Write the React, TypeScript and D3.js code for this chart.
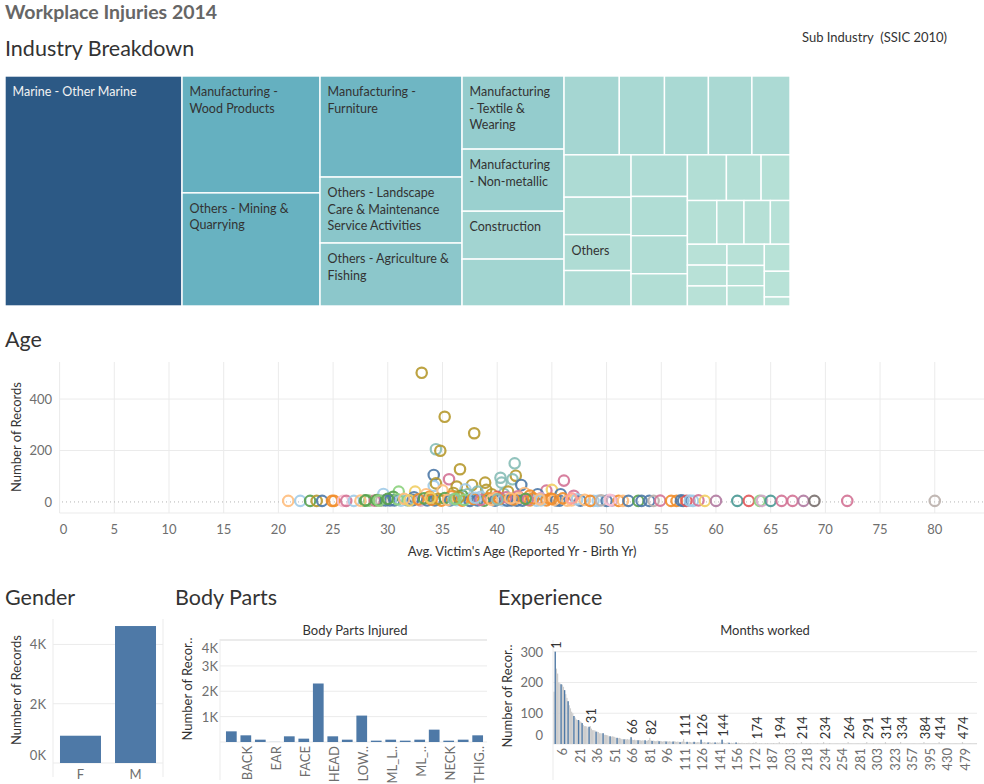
import React from "react";
import * as d3 from "d3";

const FONT = "Lato, 'Open Sans', sans-serif";
const GRID = "#ebebeb";
const TICK = "#6e6e6e";
const DARK = "#333333";
const FS = 13;

// ---------------- Treemap (Sub Industry) ----------------
const subIndustryLabels = [
  "Marine - Other Marine",
  "Manufacturing -\nWood Products",
  "Others - Mining &\nQuarrying",
  "Manufacturing -\nFurniture",
  "Others - Landscape\nCare & Maintenance\nService Activities",
  "Others - Agriculture &\nFishing",
  "Manufacturing\n- Textile &\nWearing",
  "Manufacturing\n- Non-metallic",
  "Construction",
  "", "", "", "", "", "", "", "", "Others", "", "", "", "", "",
  "", "", "", "", "", "", "", "", "", "", "", "", "", "", "", "", "",
];
const subIndustryValues = [
  1234, 489, 473, 435, 284, 271, 226, 192, 148,
  145, 132, 108, 105, 104, 91, 86, 76, 73, 72, 71, 67, 65, 55,
  54, 48, 40, 39, 36, 35, 25, 26, 25, 24, 24, 23, 23, 21, 20, 7,
];

// ---------------- Age scatter ----------------
const tableau20 = [
  "#4e79a7", "#a0cbe8", "#f28e2b", "#ffbe7d", "#59a14f", "#8cd17d", "#b6992d", "#f1ce63",
  "#499894", "#86bcb6", "#e15759", "#ff9d9a", "#79706e", "#bab0ac", "#d37295", "#fabfd2",
  "#b07aa1", "#d4a6c8", "#9d7660", "#d7b5a6",
];
const ageX = [
  33.1, 35.2, 37.9, 34.4, 34.8, 36.6, 34.2, 35.6, 38.9, 37.7, 40.3, 40.4, 41.6, 41.7, 41.4, 42.2, 46.1, 36.3, 34.2, 34.4,
  37.1, 31.0, 32.5, 44.5, 45.0, 43.7, 45.8, 40.6, 32.4, 39.0, 29.6, 47.0, 36.0, 38.2, 35.0, 33.5, 39.5, 42.5, 41.0, 43.0,
  36.8, 38.5, 30.5, 44.0, 40.0, 33.8, 37.3, 35.8, 39.8, 41.9,
  20.9, 22.0, 22.9, 23.5, 24.0, 24.9, 25.1, 25.9, 26.2, 26.9, 27.9, 28.3, 28.8, 29.4, 29.8, 30.2, 30.6, 31.2, 31.8, 32.3,
  33.0, 33.6, 34.3, 34.9, 35.7, 36.3, 36.8, 37.4, 37.5, 38.2, 38.8, 39.8, 40.5, 40.9, 41.3, 41.8, 42.3, 43.0, 43.6, 44.5,
  45.4, 45.7, 46.4, 47.6, 48.8, 49.2, 50.0, 50.5, 51.1, 51.5, 52.0, 52.9, 53.2, 53.9, 54.3, 54.9, 55.9, 56.4, 56.8, 57.0,
  57.3, 57.6, 57.9, 58.4, 58.98, 60.0, 61.95, 63.0, 64.0, 64.2, 65.0, 66.0, 67.0, 68.0, 69.0, 72.0, 80.0,
  30.9, 31.5, 32.0, 32.8, 33.3, 34.0, 34.6, 35.2, 35.5, 36.0, 36.5, 37.0, 37.8, 38.5, 39.2, 39.5, 40.2, 40.8, 41.5, 42.0,
  42.8, 43.3, 44.0, 44.8, 45.2, 46.0, 46.8, 47.3, 48.0, 48.5, 49.5, 50.3, 27.5, 28.0, 29.0, 29.2, 30.0, 33.9, 36.2, 38.0,
  40.0, 41.2, 43.9, 45.0, 46.8, 42.6,
];
const ageY = [
  502, 331, 267, 205, 199, 127, 105, 88, 75, 66, 94, 75, 150, 102, 88, 66, 83, 60, 62, 72,
  49, 40, 40, 44, 47, 30, 30, 31, 18, 47, 31, 24, 35, 40, 45, 30, 30, 35, 40, 25,
  25, 20, 20, 15, 20, 20, 30, 22, 15, 22,
  4, 4, 4, 4, 4, 4, 4, 4, 4, 4, 5, 5, 5, 5, 6, 6, 6, 5, 6, 7,
  5, 6, 6, 5, 6, 7, 5, 6, 4, 6, 5, 5, 6, 5, 6, 5, 5, 6, 5, 6,
  6, 5, 5, 5, 4, 4, 4, 5, 4, 4, 4, 4, 4, 4, 4, 5, 4, 4, 6, 4,
  4, 5, 4, 6, 4, 4, 4, 4, 4, 4, 4, 4, 4, 4, 4, 4, 4,
  10, 12, 6, 10, 14, 9, 12, 15, 8, 10, 18, 8, 12, 8, 14, 8, 12, 18, 10, 16,
  8, 14, 6, 12, 8, 14, 6, 10, 8, 4, 6, 8, 5, 6, 7, 5, 12, 16, 12, 16,
  10, 14, 10, 12, 14, 12,
];
const ageColor = [
  6, 6, 6, 9, 6, 6, 0, 14, 6, 6, 9, 9, 9, 6, 9, 0, 14, 6, 1, 6,
  1, 5, 7, 14, 7, 0, 0, 9, 0, 6, 1, 14, 6, 9, 3, 3, 6, 3, 6, 2,
  4, 1, 4, 17, 10, 2, 9, 2, 3, 14,
  3, 1, 4, 6, 0, 2, 2, 15, 14, 1, 4, 5, 14, 13, 0, 0, 0, 1, 9, 0,
  17, 0, 0, 2, 0, 1, 2, 1, 0, 0, 4, 0, 1, 0, 0, 0, 0, 2, 1, 2,
  0, 0, 3, 0, 1, 1, 0, 17, 2, 3, 0, 4, 0, 0, 13, 14, 2, 2, 0, 0,
  10, 1, 1, 14, 7, 16, 8, 10, 5, 17, 8, 14, 14, 16, 12, 14, 13,
  5, 3, 7, 2, 4, 2, 6, 4, 3, 9, 6, 5, 2, 14, 2, 3, 2, 14, 2, 3,
  14, 2, 1, 2, 3, 2, 3, 1, 3, 2, 13, 15, 3, 4, 4, 5, 4, 7, 5, 1,
  9, 3, 3, 2, 11, 4,
];
const ageXTicks = [0, 5, 10, 15, 20, 25, 30, 35, 40, 45, 50, 55, 60, 65, 70, 75, 80];
const ageYTicks = [0, 200, 400];

// ---------------- Gender ----------------
const genders = ["F", "M"];
const genderCounts = [920, 4620];
const genderTicks = [0, 2000, 4000];

// ---------------- Body parts ----------------
const bodyPartLabels = ["", "BACK", "", "EAR", "", "FACE", "", "HEAD", "", "LOW..", "", "ML_L..", "", "ML_..", "", "NECK", "", "THIG.."];
const bodyPartCounts = [420, 263, 92, 4, 224, 132, 2306, 224, 92, 1041, 53, 92, 53, 92, 487, 53, 92, 263];
const bodyTicks = [1000, 2000, 3000, 4000];

// ---------------- Experience (months worked) ----------------
const expMonths = [
  ...d3.range(0, 157),
  157, 158, 159, 160, 161, 162, 163, 164, 166, 167, 168, 169, 170, 171, 172,
  173, 174, 175, 176, 177, 178, 179, 180, 181, 182, 183, 184, 185, 186, 187,
  188, 189, 190, 191, 192, 193, 194, 196, 197, 198, 199, 200, 201, 202, 203,
  204, 205, 206, 207, 208, 209, 210, 211, 212, 213, 214, 215, 216, 217, 218,
  219, 220, 221, 222, 223, 224, 225, 226, 228, 229, 230, 231, 232, 233, 234,
  235, 236, 238, 239, 240, 242, 243, 244, 246, 247, 248, 250, 251, 253, 254,
  255, 257, 258, 260, 262, 264, 265, 267, 269, 271, 273, 275, 277, 279, 281,
  282, 284, 285, 287, 288, 290, 291, 293, 294, 296, 297, 299, 300, 302, 303,
  304, 306, 307, 309, 310, 312, 313, 314, 316, 317, 318, 320, 321, 322, 323,
  324, 326, 328, 330, 333, 334, 336, 339, 341, 343, 346, 348, 351, 354, 357,
  358, 360, 363, 365, 368, 371, 373, 376, 378, 381, 384, 386, 389, 392, 395,
  396, 399, 401, 404, 406, 408, 410, 412, 414, 416, 419, 421, 424, 427, 430,
  431, 434, 437, 440, 444, 447, 450, 453, 456, 460, 463, 467, 471, 474, 479,
  480, 483, 486, 490, 494, 498, 503, 508, 514, 521, 530,
];
const expCounts = [
  170, 300, 245, 229, 200, 197, 194, 193, 186, 175,
  162, 150, 139, 126, 116, 105, 100, 91, 86, 80,
  78, 78, 74, 72, 68, 62, 58, 58, 57, 51,
  56, 58, 50, 45, 45, 44, 40, 40, 39, 35,
  35, 34, 35, 30, 30, 29, 28, 25, 25, 24,
  25, 24, 23, 20, 20, 19, 20, 18, 16, 16,
  15, 16, 15, 16, 14, 15, 22, 14, 13, 14,
  12, 13, 12, 13, 12, 11, 12, 11, 12, 10,
  11, 13, 20, 12, 10, 11, 10, 9, 10, 11,
  9, 10, 9, 8, 9, 10, 8, 9, 8, 9,
  8, 7, 8, 9, 8, 7, 8, 7, 6, 7,
  8, 16, 7, 6, 7, 6, 7, 6, 5, 6,
  7, 6, 5, 6, 6, 5, 14, 6, 5, 6,
  5, 4, 5, 6, 5, 4, 5, 4, 5, 4,
  5, 4, 5, 4, 14, 5, 4, 3, 4, 5,
  4, 3, 4, 3, 4, 3, 5,
  3, 4, 3, 3, 4, 3, 3, 2, 3, 3, 4, 3, 2, 3, 4,
  3, 6, 3, 2, 3, 2, 3, 2, 2, 3, 2, 3, 2, 2, 3,
  2, 3, 2, 2, 3, 2, 6, 2, 2, 3, 2, 2, 3, 2, 2,
  3, 2, 2, 3, 2, 2, 3, 2, 2, 2, 6, 2, 2, 2, 3,
  2, 2, 2, 3, 2, 2, 2, 2, 2, 3, 2, 2, 2, 2, 6,
  2, 2, 2, 2, 3, 2, 2, 2, 2, 2, 2, 2, 2, 2, 2,
  2, 2, 2, 2, 2, 6, 2, 2, 2, 2, 2, 2, 2, 2, 2,
  2, 2, 2, 2, 2, 2, 6, 2, 2, 2, 2, 2, 3, 2, 2,
  2, 2, 2, 2, 2, 2, 2, 6, 2, 2, 2, 2, 2, 2, 2,
  2, 2, 2, 2, 2, 6, 2, 2, 2, 2, 2, 2, 2, 2, 2,
  2, 2, 2, 2, 2, 2, 2, 2, 2, 2, 6, 2, 2, 2, 2,
  2, 2, 2, 2, 2, 2, 2, 2, 6, 2, 2, 2, 2, 2, 2,
  2, 2, 2, 2, 2, 2, 2, 2, 2, 2, 2, 2, 2, 6, 2,
  2, 2, 2, 2, 2, 2, 2, 2, 2, 2, 2,
];
const expBlueMonths = [1, 6, 9, 12, 17, 21, 24, 30, 36, 42, 48, 54, 60, 66, 72, 78, 84, 90, 96, 102, 108, 114, 120, 126, 132, 138, 144, 150, 156];
const expLabelMonths = [1, 31, 66, 82, 111, 126, 144, 174, 194, 214, 234, 264, 291, 314, 334, 384, 414, 474];
const expTickMonths = [6, 21, 36, 51, 66, 81, 96, 111, 126, 141, 156, 172, 187, 203, 218, 234, 254, 281, 303, 323, 357, 395, 430, 479];
const expYTicks = [0, 100, 200, 300];

const fmtK = (d: number) => `${d / 1000}K`;

function Treemap() {
  const data = { children: subIndustryValues.map((v, i) => ({ value: v, label: subIndustryLabels[i] })) };
  const root = d3
    .hierarchy<any>(data)
    .sum((d: any) => d.value || 0)
    .sort((a, b) => (b.value || 0) - (a.value || 0));
  d3.treemap<any>().size([785, 230]).tile(d3.treemapSquarify)(root);
  const color = d3
    .scaleLinear<string>()
    .domain([0, 520, 1234])
    .range(["#bce4d8", "#60adbf", "#2c5985"]);
  const leaves = root.leaves() as any[];
  return (
    <g transform="translate(5,76)">
      {leaves.map((n, i) => (
        <rect key={i} x={n.x0} y={n.y0} width={n.x1 - n.x0} height={n.y1 - n.y0} fill={color(n.value)} stroke="#fff" strokeWidth={1.4} />
      ))}
      {leaves.map((n, i) =>
        n.data.label ? (
          <text key={"t" + i} x={n.x0 + 7.5} y={n.y0 + 20} fontSize={12.5} fill={n.value > 800 ? "#f2f2f2" : DARK} fontFamily={FONT}>
            {n.data.label.split("\n").map((line: string, j: number) => (
              <tspan key={j} x={n.x0 + 7.5} dy={j === 0 ? 0 : 16.5}>
                {line}
              </tspan>
            ))}
          </text>
        ) : null
      )}
    </g>
  );
}

function AgeScatter() {
  const x = d3.scaleLinear().domain([0, 84.5]).range([59.6, 984]);
  const y = d3.scaleLinear().domain([-43, 544]).range([513, 362]);
  return (
    <g fontFamily={FONT}>
      {ageXTicks.map((t) => (
        <line key={"vx" + t} x1={x(t)} x2={x(t)} y1={362} y2={513} stroke={GRID} strokeWidth={1} />
      ))}
      {ageYTicks.filter((t) => t > 0).map((t) => (
        <line key={"hy" + t} x1={59.6} x2={984} y1={y(t)} y2={y(t)} stroke={GRID} strokeWidth={1} />
      ))}
      <line x1={59.6} x2={984} y1={513} y2={513} stroke={GRID} strokeWidth={1} />
      <line x1={62} x2={984} y1={y(0)} y2={y(0)} stroke="#b4b4b4" strokeWidth={1} strokeDasharray="1,3" />
      {ageX.map((v, i) => (
        <circle key={i} cx={x(v)} cy={y(ageY[i])} r={5.2} fill="none" stroke={tableau20[ageColor[i]]} strokeWidth={2.2} strokeOpacity={0.9} />
      ))}
      {ageXTicks.map((t) => (
        <text key={"tx" + t} x={x(t) + (t === 0 ? 4 : 0)} y={529} textAnchor="middle" dominantBaseline="central" fontSize={FS} fill={TICK}>
          {t}
        </text>
      ))}
      {ageYTicks.map((t) => (
        <text key={"ty" + t} x={52} y={y(t)} textAnchor="end" dominantBaseline="central" fontSize={FS} fill={TICK}>
          {t}
        </text>
      ))}
      <text x={522} y={551} textAnchor="middle" dominantBaseline="central" fontSize={FS} fill={DARK}>
        Avg. Victim's Age (Reported Yr - Birth Yr)
      </text>
      <text transform="translate(15.5,437) rotate(-90)" textAnchor="middle" dominantBaseline="central" fontSize={FS} fill={DARK}>
        Number of Records
      </text>
    </g>
  );
}

function Gender() {
  const x = d3.scaleBand().domain(genders).range([53, 163]).paddingInner(0.255).paddingOuter(0.127);
  const y = d3.scaleLinear().domain([0, 4857]).range([763, 619]);
  return (
    <g fontFamily={FONT}>
      {genderTicks.filter((t) => t > 0).map((t) => (
        <line key={t} x1={53} x2={163} y1={y(t)} y2={y(t)} stroke={GRID} />
      ))}
      <line x1={53} x2={53} y1={619} y2={777} stroke={GRID} />
      <line x1={163} x2={163} y1={619} y2={777} stroke={GRID} />
      <line x1={53} x2={163} y1={763} y2={763} stroke={GRID} />
      {genders.map((g, i) => (
        <rect key={g} x={x(g)} y={y(genderCounts[i])} width={x.bandwidth()} height={y(0) - y(genderCounts[i])} fill="#4e79a7" />
      ))}
      {genderTicks.map((t) => (
        <text key={"t" + t} x={46} y={y(t) + (t === 0 ? -8 : 0)} textAnchor="end" dominantBaseline="central" fontSize={FS} fill={TICK}>
          {fmtK(t)}
        </text>
      ))}
      {genders.map((g) => (
        <text key={"l" + g} x={(x(g) || 0) + x.bandwidth() / 2} y={774} textAnchor="middle" dominantBaseline="central" fontSize={FS} fill={TICK}>
          {g}
        </text>
      ))}
      <text transform="translate(16,690) rotate(-90)" textAnchor="middle" dominantBaseline="central" fontSize={FS} fill={DARK}>
        Number of Records
      </text>
    </g>
  );
}

function BodyParts() {
  const idx = bodyPartCounts.map((_, i) => String(i));
  const x = d3.scaleBand().domain(idx).range([223.8, 485.2]).paddingInner(0.26).paddingOuter(0.15);
  const y = d3.scaleLinear().domain([0, 4060]).range([742, 639]);
  return (
    <g fontFamily={FONT}>
      <line x1={220} x2={487} y1={639.5} y2={639.5} stroke={GRID} />
      {bodyTicks.map((t) => (
        <line key={t} x1={220} x2={487} y1={y(t)} y2={y(t)} stroke={GRID} />
      ))}
      <line x1={220} x2={220} y1={639} y2={780} stroke={GRID} />
      <line x1={220} x2={487} y1={742} y2={742} stroke={GRID} />
      {bodyPartCounts.map((v, i) => (
        <rect key={i} x={x(String(i))} y={y(v)} width={x.bandwidth()} height={y(0) - y(v)} fill="#4e79a7" />
      ))}
      {bodyTicks.map((t) => (
        <text key={"t" + t} x={218} y={y(t) + (t === 4000 ? 7 : 0)} textAnchor="end" dominantBaseline="central" fontSize={FS} fill={TICK}>
          {fmtK(t)}
        </text>
      ))}
      {bodyPartLabels.map((l, i) =>
        l ? (
          <text
            key={"l" + i}
            transform={`translate(${(x(String(i)) || 0) + x.bandwidth() / 2 + 1},746) rotate(-90)`}
            textAnchor="end"
            dominantBaseline="central"
            fontSize={FS}
            fill={TICK}
          >
            {l}
          </text>
        ) : null
      )}
      <text x={355} y={630} textAnchor="middle" dominantBaseline="central" fontSize={FS} fill={DARK}>
        Body Parts Injured
      </text>
      <text transform="translate(186.5,689) rotate(-90)" textAnchor="middle" dominantBaseline="central" fontSize={FS} fill={DARK}>
        Number of Recor..
      </text>
    </g>
  );
}

function Experience() {
  const keys = expMonths.map(String);
  const x = d3.scaleBand().domain(keys).range([553.5, 977]).padding(0);
  const y = d3.scaleLinear().domain([0, 338]).range([744, 640]);
  const bw = x.bandwidth();
  const valueOf = (m: number) => expCounts[expMonths.indexOf(m)];
  return (
    <g fontFamily={FONT}>
      {expYTicks.filter((t) => t > 0).map((t) => (
        <line key={t} x1={553} x2={977} y1={y(t)} y2={y(t)} stroke={GRID} />
      ))}
      <line x1={553} x2={553} y1={640} y2={780} stroke={GRID} />
      <line x1={553} x2={977} y1={744} y2={744} stroke={GRID} />
      {expMonths.map((m, i) => (
        <rect key={i} x={x(String(m))} y={y(expCounts[i])} width={bw + 0.05} height={y(0) - y(expCounts[i])} fill="#cdcdcd" />
      ))}
      {expBlueMonths.map((m) => (
        <rect key={"b" + m} x={(x(String(m)) || 0) + bw / 2 - 0.65} y={y(valueOf(m))} width={1.3} height={y(0) - y(valueOf(m))} fill="#4e79a7" />
      ))}
      {expLabelMonths.map((m) => (
        <text
          key={"ml" + m}
          transform={`translate(${(x(String(m)) || 0) + bw / 2 + 1},${y(valueOf(m)) - 3}) rotate(-90)`}
          textAnchor="start"
          dominantBaseline="central"
          fontSize={FS}
          fill={DARK}
        >
          {m}
        </text>
      ))}
      {expYTicks.map((t) => (
        <text key={"t" + t} x={543} y={y(t) + (t === 0 ? -9 : 0)} textAnchor="end" dominantBaseline="central" fontSize={FS} fill={TICK}>
          {t}
        </text>
      ))}
      {expTickMonths.map((m) => (
        <text
          key={"xt" + m}
          transform={`translate(${(x(String(m)) || 0) + bw / 2 + 1},748) rotate(-90)`}
          textAnchor="end"
          dominantBaseline="central"
          fontSize={FS}
          fill={TICK}
        >
          {m}
        </text>
      ))}
      <text x={765} y={630} textAnchor="middle" dominantBaseline="central" fontSize={FS} fill={DARK}>
        Months worked
      </text>
      <text transform="translate(506.5,696) rotate(-90)" textAnchor="middle" dominantBaseline="central" fontSize={FS} fill={DARK}>
        Number of Recor..
      </text>
    </g>
  );
}

export default function App() {
  return (
    <svg width={984} height={784} style={{ position: "fixed", left: 0, top: 0, background: "#fff" }} fontFamily={FONT}>
      <rect x={0} y={0} width={984} height={784} fill="#fff" />
      <text x={5} y={18.5} fontSize={19.5} fontWeight="bold" fill="#666">
        Workplace Injuries 2014
      </text>
      <text x={5} y={56} fontSize={21.5} fill={DARK}>
        Industry Breakdown
      </text>
      <text x={802} y={42} fontSize={FS} fill={DARK} style={{ whiteSpace: "pre" }}>
        {"Sub Industry  (SSIC 2010)"}
      </text>
      <Treemap />
      <text x={5} y={347} fontSize={21.5} fill={DARK}>
        Age
      </text>
      <AgeScatter />
      <text x={5} y={605} fontSize={21.5} fill={DARK}>
        Gender
      </text>
      <Gender />
      <text x={175} y={605} fontSize={21.5} fill={DARK}>
        Body Parts
      </text>
      <BodyParts />
      <text x={498} y={605} fontSize={21.5} fill={DARK}>
        Experience
      </text>
      <Experience />
    </svg>
  );
}
